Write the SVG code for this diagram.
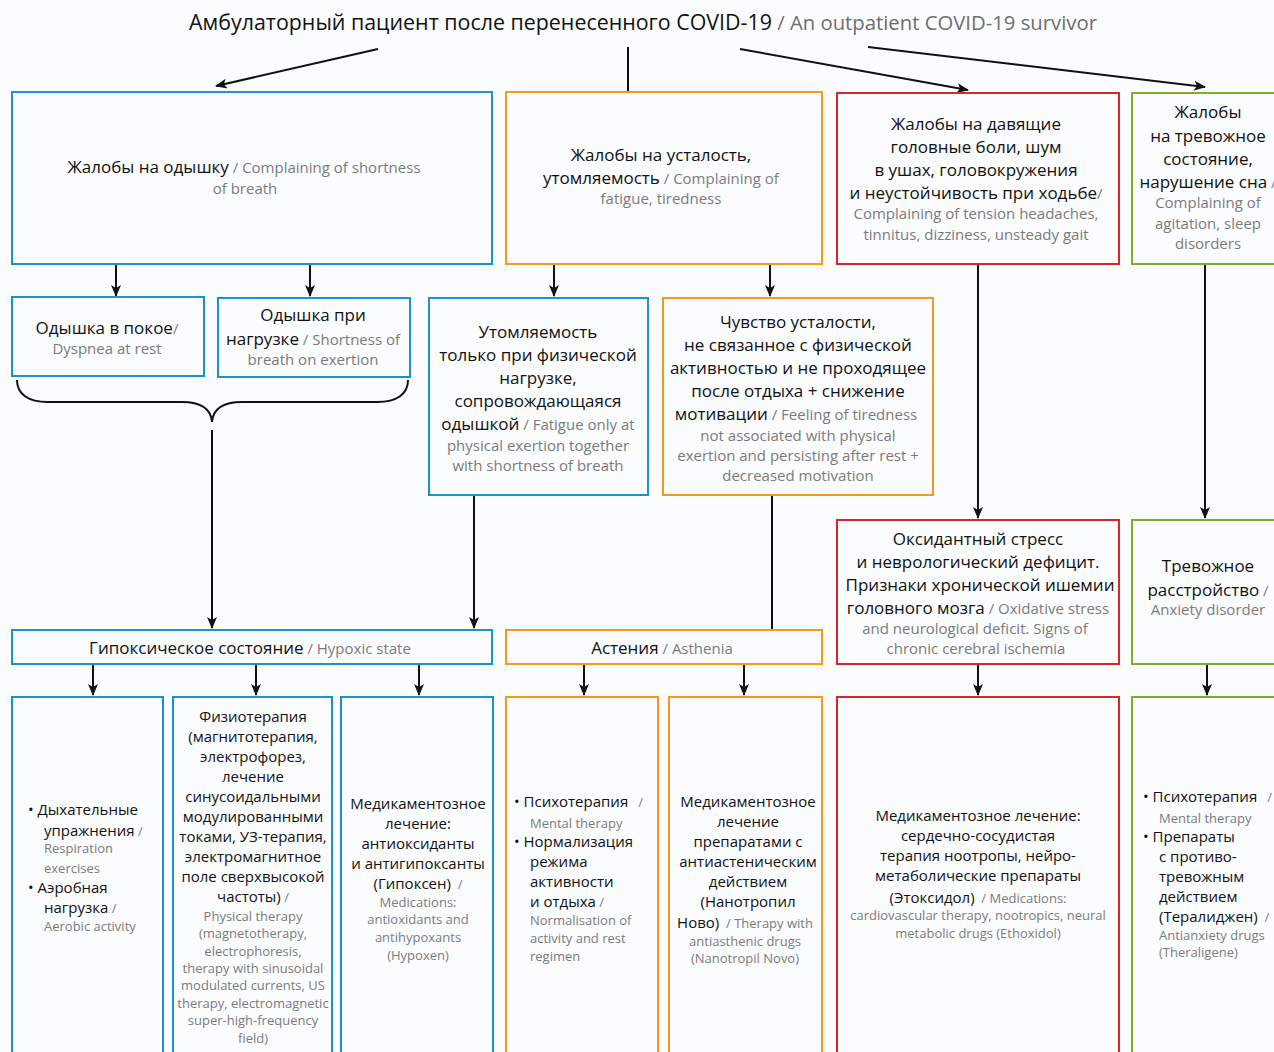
<svg xmlns="http://www.w3.org/2000/svg" width="1274" height="1052" viewBox="0 0 1274 1052">
<style>
text{font-family:"Open Sans","Noto Sans","DejaVu Sans",sans-serif}
.t{font-size:21.4px;fill:#111}
.tg{font-size:20.3px;fill:#6e6e6e}
.b{font-size:17px;fill:#111}
.g{font-size:15px;fill:#7b7b7b}
.bs{font-size:15px;fill:#111}
.gs{font-size:13px;fill:#7b7b7b}
.p{white-space:pre}
.c{text-anchor:middle}
.box{fill:none;stroke-width:2}
.bl{stroke:#1b92c8}
.or{stroke:#f39a1e}
.rd{stroke:#d8262c}
.gr{stroke:#7fac2a}
.ln{fill:none;stroke:#111;stroke-width:2}
</style>
<defs>
<marker id="ah" viewBox="0 0 12 10" refX="11" refY="5" markerWidth="12" markerHeight="10" markerUnits="userSpaceOnUse" orient="auto">
<path d="M0,0 L12,5 L0,10 L3,5 z" fill="#111"/>
</marker>
</defs>
<rect width="1274" height="1052" fill="#fbfcfe"/>

<g id="title">
<text x="643" y="30" class="c"><tspan class="t">Амбулаторный пациент после перенесенного COVID-19</tspan><tspan class="tg"> / An outpatient COVID-19 survivor</tspan></text>
</g>

<g id="connectors">
<line class="ln" x1="378" y1="49" x2="216" y2="86" marker-end="url(#ah)"/>
<line class="ln" x1="628" y1="47" x2="628" y2="91"/>
<line class="ln" x1="740" y1="49" x2="968" y2="90" marker-end="url(#ah)"/>
<line class="ln" x1="868" y1="47" x2="1205" y2="87" marker-end="url(#ah)"/>
<line class="ln" x1="116" y1="265" x2="116" y2="296" marker-end="url(#ah)"/>
<line class="ln" x1="310" y1="265" x2="310" y2="296" marker-end="url(#ah)"/>
<line class="ln" x1="554" y1="265" x2="554" y2="296" marker-end="url(#ah)"/>
<line class="ln" x1="770" y1="265" x2="770" y2="296" marker-end="url(#ah)"/>
<line class="ln" x1="978" y1="265" x2="978" y2="518" marker-end="url(#ah)"/>
<line class="ln" x1="1205" y1="265" x2="1205" y2="518" marker-end="url(#ah)"/>
<path class="ln" d="M17,380 C17,394 28,402 48,402 L182,402 C202,402 211,410 212,422 C213,410 222,402 242,402 L377,402 C397,402 408,394 408,380"/>
<line class="ln" x1="212" y1="430" x2="212" y2="628" marker-end="url(#ah)"/>
<line class="ln" x1="474" y1="496" x2="474" y2="628" marker-end="url(#ah)"/>
<line class="ln" x1="772" y1="496" x2="772" y2="630"/>
<line class="ln" x1="93" y1="665" x2="93" y2="695" marker-end="url(#ah)"/>
<line class="ln" x1="256" y1="665" x2="256" y2="695" marker-end="url(#ah)"/>
<line class="ln" x1="419" y1="665" x2="419" y2="695" marker-end="url(#ah)"/>
<line class="ln" x1="584" y1="665" x2="584" y2="695" marker-end="url(#ah)"/>
<line class="ln" x1="744" y1="665" x2="744" y2="695" marker-end="url(#ah)"/>
<line class="ln" x1="978" y1="665" x2="978" y2="695" marker-end="url(#ah)"/>
<line class="ln" x1="1207" y1="665" x2="1207" y2="695" marker-end="url(#ah)"/>
</g>

<g id="dyspnea">
<rect class="box bl" x="12" y="92" width="480" height="172"/>
<text x="244" y="173" class="c"><tspan class="b">Жалобы на одышку</tspan><tspan class="g"> / Complaining of shortness</tspan></text>
<text x="245" y="194" class="c g">of breath</text>
</g>

<g id="fatigue">
<rect class="box or" x="506" y="92" width="316" height="172"/>
<text x="661" y="161" class="c b">Жалобы на усталость,</text>
<text x="661" y="184" class="c"><tspan class="b">утомляемость</tspan><tspan class="g"> / Complaining of</tspan></text>
<text x="661" y="204" class="c g">fatigue, tiredness</text>
</g>

<g id="headache">
<rect class="box rd" x="837" y="93" width="282" height="171"/>
<text x="976" y="130" class="c b">Жалобы на давящие</text>
<text x="976" y="153" class="c b">головные боли, шум</text>
<text x="976" y="176" class="c b">в ушах, головокружения</text>
<text x="976" y="199" class="c"><tspan class="b">и неустойчивость при ходьбе</tspan><tspan class="g">/</tspan></text>
<text x="976" y="219" class="c g">Complaining of tension headaches,</text>
<text x="976" y="240" class="c g">tinnitus, dizziness, unsteady gait</text>
</g>

<g id="agitation">
<rect class="box gr" x="1132" y="93" width="160" height="171"/>
<text x="1208" y="118" class="c b">Жалобы</text>
<text x="1208" y="142" class="c b">на тревожное</text>
<text x="1208" y="165" class="c b">состояние,</text>
<text x="1208" y="188" class="c"><tspan class="b">нарушение сна</tspan><tspan class="g"> /</tspan></text>
<text x="1208" y="208" class="c g">Complaining of</text>
<text x="1208" y="229" class="c g">agitation, sleep</text>
<text x="1208" y="249" class="c g">disorders</text>
</g>

<g id="rest">
<rect class="box bl" x="12" y="297" width="192" height="79"/>
<text x="107" y="334" class="c"><tspan class="b">Одышка в покое</tspan><tspan class="g">/</tspan></text>
<text x="107" y="354" class="c g">Dyspnea at rest</text>
</g>

<g id="exertion">
<rect class="box bl" x="218" y="298" width="192" height="79"/>
<text x="313" y="321" class="c b">Одышка при</text>
<text x="313" y="345" class="c"><tspan class="b">нагрузке</tspan><tspan class="g"> / Shortness of</tspan></text>
<text x="313" y="365" class="c g">breath on exertion</text>
</g>

<g id="fatigue-exertion">
<rect class="box bl" x="429" y="298" width="219" height="197"/>
<text x="538" y="338" class="c b">Утомляемость</text>
<text x="538" y="361" class="c b">только при физической</text>
<text x="538" y="384" class="c b">нагрузке,</text>
<text x="538" y="407" class="c b">сопровождающаяся</text>
<text x="538" y="430" class="c"><tspan class="b">одышкой</tspan><tspan class="g"> / Fatigue only at</tspan></text>
<text x="538" y="451" class="c g">physical exertion together</text>
<text x="538" y="471" class="c g">with shortness of breath</text>
</g>

<g id="tiredness">
<rect class="box or" x="663" y="298" width="270" height="197"/>
<text x="798" y="328" class="c b">Чувство усталости,</text>
<text x="798" y="351" class="c b">не связанное с физической</text>
<text x="798" y="374" class="c b">активностью и не проходящее</text>
<text x="798" y="397" class="c b">после отдыха + снижение</text>
<text x="796" y="420" class="c"><tspan class="b">мотивации</tspan><tspan class="g"> / Feeling of tiredness</tspan></text>
<text x="798" y="441" class="c g">not associated with physical</text>
<text x="798" y="461" class="c g">exertion and persisting after rest +</text>
<text x="798" y="481" class="c g">decreased motivation</text>
</g>

<g id="oxidative">
<rect class="box rd" x="837" y="520" width="282" height="144"/>
<text x="978" y="545" class="c b">Оксидантный стресс</text>
<text x="978" y="568" class="c b">и неврологический дефицит.</text>
<text x="980" y="591" class="c b">Признаки хронической ишемии</text>
<text x="978" y="614" class="c"><tspan class="b">головного мозга</tspan><tspan class="g"> / Oxidative stress</tspan></text>
<text x="975" y="634" class="c g">and neurological deficit. Signs of</text>
<text x="976" y="654" class="c g">chronic cerebral ischemia</text>
</g>

<g id="anxiety">
<rect class="box gr" x="1132" y="520" width="160" height="144"/>
<text x="1208" y="572" class="c b">Тревожное</text>
<text x="1208" y="596" class="c"><tspan class="b">расстройство</tspan><tspan class="g"> /</tspan></text>
<text x="1208" y="615" class="c g">Anxiety disorder</text>
</g>

<g id="hypoxic">
<rect class="box bl" x="12" y="630" width="480" height="34"/>
<text x="250" y="654" class="c"><tspan class="b">Гипоксическое состояние</tspan><tspan class="g"> / Hypoxic state</tspan></text>
</g>

<g id="asthenia">
<rect class="box or" x="506" y="630" width="316" height="34"/>
<text x="662" y="654" class="c"><tspan class="b">Астения</tspan><tspan class="g"> / Asthenia</tspan></text>
</g>

<g id="breathing">
<rect class="box bl" x="12" y="697" width="151" height="370"/>
<text x="28" y="815" class="bs">• Дыхательные</text>
<text x="44" y="836"><tspan class="bs">упражнения</tspan><tspan class="gs"> /</tspan></text>
<text x="44" y="853" class="gs">Respiration</text>
<text x="44" y="873" class="gs">exercises</text>
<text x="28" y="893" class="bs">• Аэробная</text>
<text x="44" y="913"><tspan class="bs">нагрузка</tspan><tspan class="gs"> /</tspan></text>
<text x="44" y="931" class="gs">Aerobic activity</text>
</g>

<g id="physio">
<rect class="box bl" x="173" y="697" width="159" height="370"/>
<text x="253" y="722" class="c bs">Физиотерапия</text>
<text x="253" y="742" class="c bs">(магнитотерапия,</text>
<text x="253" y="762" class="c bs">электрофорез,</text>
<text x="253" y="782" class="c bs">лечение</text>
<text x="253" y="802" class="c bs">синусоидальными</text>
<text x="253" y="822" class="c bs">модулированными</text>
<text x="253" y="842" class="c bs">токами, УЗ-терапия,</text>
<text x="253" y="862" class="c bs">электромагнитное</text>
<text x="253" y="882" class="c bs">поле сверхвысокой</text>
<text x="253" y="902" class="c"><tspan class="bs">частоты)</tspan><tspan class="gs"> /</tspan></text>
<text x="253" y="921" class="c gs">Physical therapy</text>
<text x="253" y="938" class="c gs">(magnetotherapy,</text>
<text x="253" y="956" class="c gs">electrophoresis,</text>
<text x="253" y="973" class="c gs">therapy with sinusoidal</text>
<text x="253" y="990" class="c gs">modulated currents, US</text>
<text x="253" y="1008" class="c gs">therapy, electromagnetic</text>
<text x="253" y="1025" class="c gs">super-high-frequency</text>
<text x="253" y="1043" class="c gs">field)</text>
</g>

<g id="antioxidants">
<rect class="box bl" x="341" y="697" width="152" height="370"/>
<text x="418" y="809" class="c bs">Медикаментозное</text>
<text x="418" y="829" class="c bs">лечение:</text>
<text x="418" y="849" class="c bs">антиоксиданты</text>
<text x="418" y="869" class="c bs">и антигипоксанты</text>
<text x="418" y="889" class="c"><tspan class="bs">(Гипоксен)</tspan><tspan class="gs p">  /</tspan></text>
<text x="418" y="907" class="c gs">Medications:</text>
<text x="418" y="924" class="c gs">antioxidants and</text>
<text x="418" y="942" class="c gs">antihypoxants</text>
<text x="418" y="960" class="c gs">(Hypoxen)</text>
</g>

<g id="mental">
<rect class="box or" x="506" y="697" width="152" height="370"/>
<text x="514" y="807"><tspan class="bs">• Психотерапия</tspan><tspan class="gs p">   /</tspan></text>
<text x="530" y="828" class="gs">Mental therapy</text>
<text x="514" y="847" class="bs">• Нормализация</text>
<text x="530" y="867" class="bs">режима</text>
<text x="530" y="887" class="bs">активности</text>
<text x="530" y="907"><tspan class="bs">и отдыха</tspan><tspan class="gs"> /</tspan></text>
<text x="530" y="925" class="gs">Normalisation of</text>
<text x="530" y="943" class="gs">activity and rest</text>
<text x="530" y="961" class="gs">regimen</text>
</g>

<g id="antiasthenic">
<rect class="box or" x="669" y="697" width="153" height="370"/>
<text x="748" y="807" class="c bs">Медикаментозное</text>
<text x="748" y="827" class="c bs">лечение</text>
<text x="748" y="847" class="c bs">препаратами с</text>
<text x="748" y="867" class="c bs">антиастеническим</text>
<text x="748" y="887" class="c bs">действием</text>
<text x="748" y="907" class="c bs">(Нанотропил</text>
<text x="745" y="928" class="c"><tspan class="bs">Ново)</tspan><tspan class="gs p">  / Therapy with</tspan></text>
<text x="745" y="946" class="c gs">antiasthenic drugs</text>
<text x="745" y="963" class="c gs">(Nanotropil Novo)</text>
</g>

<g id="cardio">
<rect class="box rd" x="837" y="697" width="282" height="370"/>
<text x="978" y="821" class="c bs">Медикаментозное лечение:</text>
<text x="978" y="841" class="c bs">сердечно-сосудистая</text>
<text x="978" y="861" class="c bs">терапия ноотропы, нейро-</text>
<text x="978" y="881" class="c bs">метаболические препараты</text>
<text x="978" y="903" class="c"><tspan class="bs">(Этоксидол)</tspan><tspan class="gs p">  / Medications:</tspan></text>
<text x="978" y="920" class="c gs">cardiovascular therapy, nootropics, neural</text>
<text x="978" y="938" class="c gs">metabolic drugs (Ethoxidol)</text>
</g>

<g id="antianxiety">
<rect class="box gr" x="1132" y="697" width="160" height="370"/>
<text x="1143" y="802"><tspan class="bs">• Психотерапия</tspan><tspan class="gs p">   /</tspan></text>
<text x="1159" y="823" class="gs">Mental therapy</text>
<text x="1143" y="842" class="bs">• Препараты</text>
<text x="1159" y="862" class="bs">с противо-</text>
<text x="1159" y="882" class="bs">тревожным</text>
<text x="1159" y="902" class="bs">действием</text>
<text x="1159" y="922"><tspan class="bs">(Тералиджен)</tspan><tspan class="gs p">  /</tspan></text>
<text x="1159" y="940" class="gs">Antianxiety drugs</text>
<text x="1159" y="957" class="gs">(Theraligene)</text>
</g>
</svg>
